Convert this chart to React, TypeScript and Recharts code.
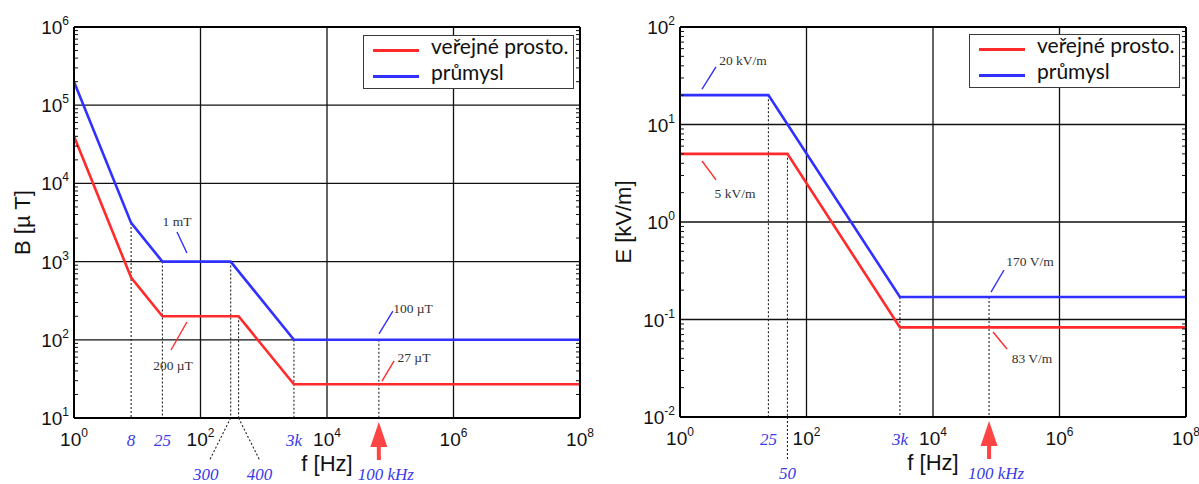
import React from "react";
import { LineChart, Line, XAxis, YAxis, ReferenceLine, ReferenceDot, Legend } from "recharts";

const SANS = "'Liberation Sans', Arial, sans-serif";
const SERIF = "'Liberation Serif', 'Times New Roman', serif";
const LEGEND_FONT = "Lato, 'Open Sans', sans-serif";

const RED = "#ff2a2a";
const BLUE = "#3030ff";
const ARROW_RED = "#ff4444";
const MARK_BLUE = "#3a3ae6";
const NOTE_INK = "#333";

const SERIES_NAMES = ["veřejné prosto.", "průmysl"];
const ARROW_TEXT = "100 kHz";

// --- B [µT] (left panel) ---
const bPublicF = [1, 8, 25, 400, 3000, 1e8];
const bPublicV = [40000, 625, 200, 200, 27, 27];
const bIndustryF = [1, 8, 25, 300, 3000, 1e8];
const bIndustryV = [200000, 3125, 1000, 1000, 100, 100];
const bDropF = [8, 25, 300, 400, 3000, 66000];
const bDropV = [3125, 1000, 1000, 200, 100, 100];
const bMarkF = [8, 25, 3000];
const bMarkText = ["8", "25", "3k"];
const bLeadF = [300, 400];
const bLeadText = ["300", "400"];
const bArrowF = 66000; // the "100 kHz" marker, where the figure draws it
const bNoteText = ["1 mT", "200 µT", "100 µT", "27 µT"];
const bNoteSeries = [1, 0, 1, 0];
const bNoteAt = [[42.5, 3300], [36.8, 47.6], [229000, 255], [237000, 60]];
const bNoteLine = [
  [[42.5, 2390], [61, 1290]],
  [[34.2, 74], [61, 169]],
  [[66400, 119], [110000, 233]],
  [[74000, 29.7], [115000, 53.6]],
];

// --- E [kV/m] (right panel) ---
const ePublicF = [1, 50, 3000, 1e8];
const ePublicV = [5, 5, 0.083, 0.083];
const eIndustryF = [1, 25, 3000, 1e8];
const eIndustryV = [20, 20, 0.17, 0.17];
const eDropF = [25, 50, 3000, 77000];
const eDropV = [20, 5, 0.17, 0.17];
const eMarkF = [25, 3000];
const eMarkText = ["25", "3k"];
const eLeadF = [50];
const eLeadText = ["50"];
const eArrowF = 77000;
const eNoteText = ["20 kV/m", "5 kV/m", "170 V/m", "83 V/m"];
const eNoteSeries = [1, 0, 1, 0];
const eNoteAt = [[9.9, 46], [7.4, 1.98], [342000, 0.398], [367000, 0.0403]];
const eNoteLine = [
  [[2.23, 23.1], [3.71, 38.9]],
  [[2.23, 4.22], [3.71, 2.7]],
  [[82600, 0.191], [132700, 0.322]],
  [[88900, 0.0745], [148000, 0.0498]],
];

const X_DECADES = [1, 100, 1e4, 1e6, 1e8];
const COLORS = [RED, BLUE];

const pts = (f: number[], v: number[]) => f.map((x, i) => ({ f: x, v: v[i] }));
const isDecade = (v: number) => Math.abs(Math.log10(v) - Math.round(Math.log10(v))) < 1e-6;
const logTicks = (lo: number, hi: number) => {
  const out: number[] = [];
  for (let e = Math.round(Math.log10(lo)); e < Math.round(Math.log10(hi)); e++) {
    for (let k = 1; k < 10; k++) out.push(+(k * Math.pow(10, e)).toPrecision(6));
  }
  out.push(hi);
  return out;
};

function YTitle(props: any) {
  const { viewBox, text, dx } = props;
  const cx = viewBox.x + dx;
  const cy = viewBox.y + viewBox.height / 2;
  return (
    <text x={cx} y={cy} transform={`rotate(-90 ${cx} ${cy})`} textAnchor="middle" dy="0.35em"
      fontSize={22} fontFamily={SANS} fill="#111">
      {text}
    </text>
  );
}

function XTitle(props: any) {
  const { viewBox } = props;
  return (
    <text x={viewBox.x + viewBox.width / 2} y={viewBox.y + 53} textAnchor="middle"
      fontSize={22} fontFamily={SANS} fill="#111">
      f [Hz]
    </text>
  );
}

function LegendBox(props: any) {
  const items = [...(props.payload || [])].sort(
    (a: any, b: any) => SERIES_NAMES.indexOf(a.value) - SERIES_NAMES.indexOf(b.value)
  );
  return (
    <div style={{ width: 211, height: 54, boxSizing: "border-box", border: "1.5px solid #3a3a3a", background: "#fff", paddingTop: 1 }}>
      {items.map((it: any) => (
        <div key={it.value} style={{ height: 26, display: "flex", alignItems: "center" }}>
          <div style={{ marginLeft: 9, width: 46, height: 3, background: it.color }} />
          <div style={{ marginLeft: 12, fontFamily: LEGEND_FONT, fontSize: 21, lineHeight: "26px", position: "relative", top: -4, color: "#111", whiteSpace: "nowrap" }}>
            {it.value}
          </div>
        </div>
      ))}
    </div>
  );
}

type PanelProps = {
  width: number;
  plotRight: number;
  yAxisWidth: number;
  xAxisHeight: number;
  yDomain: [number, number];
  lines: { f: number; v: number }[][];
  dropF: number[];
  dropV: number[];
  markF: number[];
  markText: string[];
  leadF: number[];
  leadText: string[];
  leadShift: number[][];
  arrowF: number;
  noteText: string[];
  noteSeries: number[];
  noteAt: number[][];
  noteLine: number[][][];
  yTitle: string;
  yTitleDx: number;
  legendLeft: number;
  legendTop: number;
};

function Panel(p: PanelProps) {
  const [yLo, yHi] = p.yDomain;
  const yTicks = logTicks(yLo, yHi);
  const yDecades = yTicks.filter(isDecade);
  const xTicks = [...X_DECADES, ...p.markF, ...p.leadF, p.arrowF].sort((a, b) => a - b);

  const xTick = (t: any) => {
    const { x, y } = t;
    const v = t.payload.value;
    if (v === p.arrowF) {
      return (
        <g>
          <polygon points={`${x},${y + 4} ${x - 8.5},${y + 29} ${x + 8.5},${y + 29}`} fill={ARROW_RED} />
          <rect x={x - 2} y={y + 28} width={4} height={14} fill={ARROW_RED} />
          <text x={x + 7} y={y + 62} textAnchor="middle" fontFamily={SERIF} fontStyle="italic" fontSize={17} fill={MARK_BLUE}>
            {ARROW_TEXT}
          </text>
        </g>
      );
    }
    const li = p.leadF.indexOf(v);
    if (li >= 0) {
      const [ls, ts] = p.leadShift[li];
      return (
        <g>
          <line x1={x} y1={y} x2={x + ls} y2={y + 42} stroke="#222" strokeWidth={1.1} strokeDasharray="2 2" />
          <text x={x + ts} y={y + 62} textAnchor="middle" fontFamily={SERIF} fontStyle="italic" fontSize={17} fill={MARK_BLUE}>
            {p.leadText[li]}
          </text>
        </g>
      );
    }
    const mi = p.markF.indexOf(v);
    if (mi >= 0) {
      return (
        <text x={x} y={y + 28} textAnchor="middle" fontFamily={SERIF} fontStyle="italic" fontSize={17} fill={MARK_BLUE}>
          {p.markText[mi]}
        </text>
      );
    }
    return (
      <text x={x} y={y + 28} textAnchor="middle" fontFamily={SANS} fontSize={19} fill="#111">
        10<tspan dy={-9} fontSize={12}>{Math.round(Math.log10(v))}</tspan>
      </text>
    );
  };

  const yTick = (t: any) => {
    const { x, y } = t;
    const v = t.payload.value;
    if (isDecade(v)) {
      return (
        <text x={x - 5} y={y + 7} textAnchor="end" fontFamily={SANS} fontSize={19} fill="#111">
          10<tspan dy={-9} fontSize={12}>{Math.round(Math.log10(v))}</tspan>
        </text>
      );
    }
    return <line x1={x} x2={x + 4} y1={y} y2={y} stroke="#111" strokeWidth={1} />;
  };

  const edgeTick = (t: any) => {
    if (isDecade(t.payload.value)) return <g />;
    return <line x1={t.x - 4} x2={t.x} y1={t.y} y2={t.y} stroke="#111" strokeWidth={1} />;
  };

  return (
    <LineChart
      width={p.width}
      height={484}
      margin={{ top: 27, right: p.width - p.plotRight - 1, bottom: 0, left: 0 }}
    >
      <XAxis
        dataKey="f"
        type="number"
        scale="log"
        domain={[1, 1e8]}
        allowDataOverflow
        ticks={xTicks}
        interval={0}
        tick={xTick}
        tickLine={false}
        tickSize={0}
        tickMargin={0}
        height={p.xAxisHeight}
        axisLine={{ stroke: "#000", strokeWidth: 2 }}
        label={<XTitle />}
      />
      <YAxis
        type="number"
        scale="log"
        domain={p.yDomain}
        allowDataOverflow
        ticks={yTicks}
        interval={0}
        tick={yTick}
        tickLine={false}
        tickSize={0}
        tickMargin={0}
        width={p.yAxisWidth}
        axisLine={{ stroke: "#000", strokeWidth: 2 }}
        label={<YTitle text={p.yTitle} dx={p.yTitleDx} />}
      />
      <YAxis
        yAxisId="edge"
        orientation="right"
        type="number"
        scale="log"
        domain={p.yDomain}
        allowDataOverflow
        ticks={yTicks}
        interval={0}
        tick={edgeTick}
        tickLine={false}
        tickSize={0}
        tickMargin={0}
        width={1}
        axisLine={{ stroke: "#000", strokeWidth: 2 }}
      />

      {yDecades.filter((d) => d > yLo && d < yHi).map((d) => (
        <ReferenceLine key={"gy" + d} y={d} stroke="#111" strokeWidth={1.3} />
      ))}
      {X_DECADES.filter((d) => d > 1 && d < 1e8).map((d) => (
        <ReferenceLine key={"gx" + d} x={d} stroke="#111" strokeWidth={1.3} />
      ))}
      <ReferenceLine y={yHi} stroke="#000" strokeWidth={2} />

      {p.dropF.map((f, i) => (
        <ReferenceLine
          key={"d" + i}
          segment={[{ x: f, y: p.dropV[i] }, { x: f, y: yLo }]}
          stroke="#222"
          strokeWidth={1.1}
          strokeDasharray="2 2"
        />
      ))}

      {p.lines.map((data, i) => (
        <Line
          key={SERIES_NAMES[i]}
          name={SERIES_NAMES[i]}
          data={data}
          dataKey="v"
          type="linear"
          stroke={COLORS[i]}
          strokeWidth={2.6}
          dot={false}
          isAnimationActive={false}
        />
      ))}

      {p.noteLine.map((seg, i) => (
        <ReferenceLine
          key={"nl" + i}
          segment={[{ x: seg[0][0], y: seg[0][1] }, { x: seg[1][0], y: seg[1][1] }]}
          stroke={COLORS[p.noteSeries[i]]}
          strokeWidth={1.4}
        />
      ))}
      {p.noteText.map((text, i) => (
        <ReferenceDot
          key={"nt" + i}
          x={p.noteAt[i][0]}
          y={p.noteAt[i][1]}
          r={0}
          shape={(s: any) => (
            <text x={s.cx} y={s.cy} dy="0.35em" textAnchor="middle" fontFamily={SERIF} fontSize={13.5} fill={NOTE_INK}>
              {text}
            </text>
          )}
        />
      ))}

      <Legend
        layout="vertical"
        align="center"
        verticalAlign="middle"
        wrapperStyle={{ left: p.legendLeft, top: p.legendTop, width: 211, height: 54 }}
        content={<LegendBox />}
      />
    </LineChart>
  );
}

export default function App() {
  return (
    <div style={{ position: "absolute", left: 0, top: 0, width: 1199, height: 484, background: "#fff" }}>
      <div style={{ position: "absolute", left: 0, top: 0 }}>
        <Panel
          width={600}
          plotRight={580}
          yAxisWidth={74}
          xAxisHeight={66}
          yDomain={[10, 1e6]}
          lines={[pts(bPublicF, bPublicV), pts(bIndustryF, bIndustryV)]}
          dropF={bDropF}
          dropV={bDropV}
          markF={bMarkF}
          markText={bMarkText}
          leadF={bLeadF}
          leadText={bLeadText}
          leadShift={[[-21, -25], [21, 21]]}
          arrowF={bArrowF}
          noteText={bNoteText}
          noteSeries={bNoteSeries}
          noteAt={bNoteAt}
          noteLine={bNoteLine}
          yTitle="B [µ T]"
          yTitleDx={22}
          legendLeft={363}
          legendTop={35}
        />
      </div>
      <div style={{ position: "absolute", left: 600, top: 0 }}>
        <Panel
          width={599}
          plotRight={586}
          yAxisWidth={80}
          xAxisHeight={67}
          yDomain={[0.01, 100]}
          lines={[pts(ePublicF, ePublicV), pts(eIndustryF, eIndustryV)]}
          dropF={eDropF}
          dropV={eDropV}
          markF={eMarkF}
          markText={eMarkText}
          leadF={eLeadF}
          leadText={eLeadText}
          leadShift={[[0, 0]]}
          arrowF={eArrowF}
          noteText={eNoteText}
          noteSeries={eNoteSeries}
          noteAt={eNoteAt}
          noteLine={eNoteLine}
          yTitle="E [kV/m]"
          yTitleDx={23}
          legendLeft={369}
          legendTop={34}
        />
      </div>
    </div>
  );
}
